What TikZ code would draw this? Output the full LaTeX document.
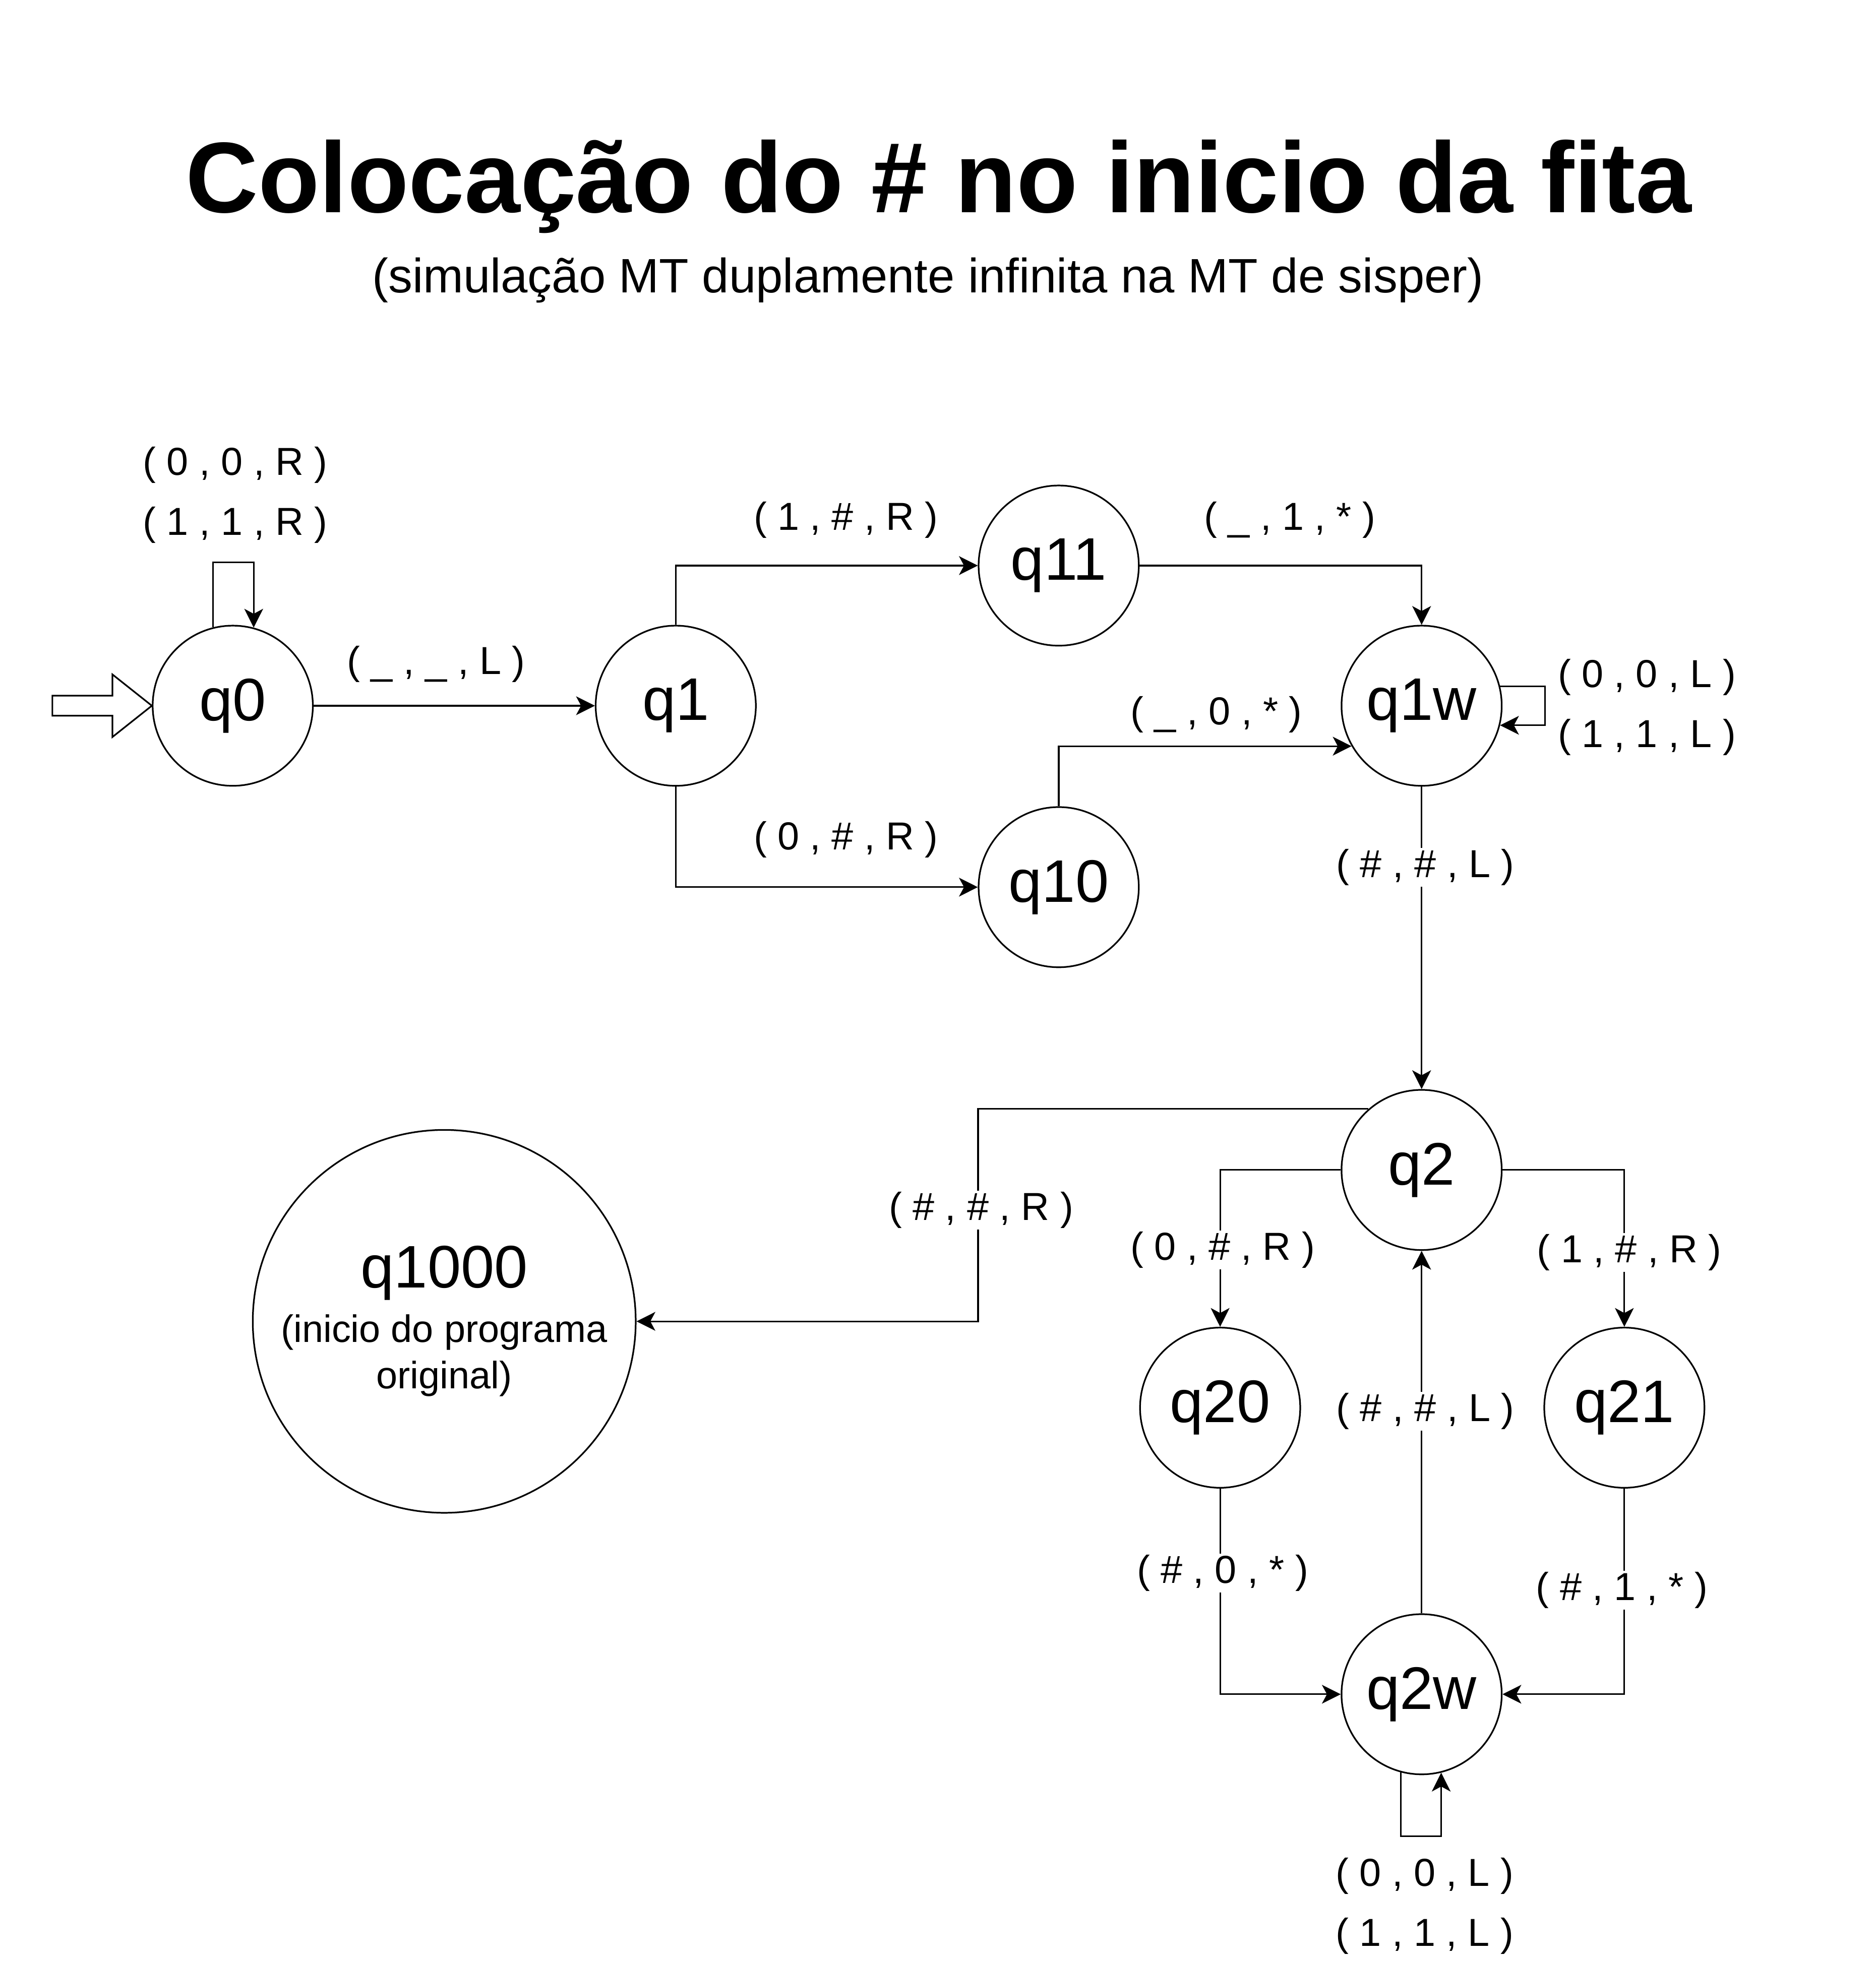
\documentclass[tikz,border=0pt]{standalone}
\usepackage{fontspec}
\setmainfont{Liberation Sans}
\usetikzlibrary{arrows.meta}

\tikzset{
  mtstate/.style={draw, circle, minimum size=128pt, inner sep=0pt, line width=1.3pt, font=\fontsize{48}{57.6}\selectfont},
  trans/.style={line width=1.3pt, -{Stealth[length=15pt,width=15pt,inset=4pt]}},
  lbl/.style={font=\fontsize{31.2}{48}\selectfont, align=center, inner sep=1pt},
  lblw/.style={lbl, fill=white},
}

\begin{document}
\begin{tikzpicture}[x=1pt, y=-1pt]
\useasboundingbox (0,0) rectangle (1499,1568);

\node[font=\fontsize{80.2}{96}\selectfont\bfseries, anchor=base] (title) at (750,170) {Colocação do \# no inicio da fita};
\node[font=\fontsize{38.6}{46}\selectfont, anchor=base] (subtitle) at (741.5,234) {(simulação MT duplamente infinita na MT de sisper)};

% states
\node[mtstate] (q0) at (186,564) {q0};
\node[mtstate] (q1) at (540,564) {q1};
\node[mtstate] (q11) at (846,452) {q11};
\node[mtstate] (q10) at (846,709) {q10};
\node[mtstate] (q1w) at (1136,564) {q1w};
\node[mtstate] (q2) at (1136,935) {q2};
\node[mtstate] (q20) at (975,1125) {q20};
\node[mtstate] (q21) at (1298,1125) {q21};
\node[mtstate] (q2w) at (1136,1354) {q2w};
\node[mtstate, minimum size=306pt, align=center] (q1000) at (355,1056) {q1000\\[-14.4pt]\fontsize{30.5}{37}\selectfont(inicio do programa\\[-20.2pt]\fontsize{30.5}{37}\selectfont original)};

% start arrow
\draw[line width=1.3pt, line join=miter] (q0.west) -- ++(-31.5,-25) -- ++(0,17) -- ++(-48,0) -- ++(0,16) -- ++(48,0) -- ++(0,17) -- cycle;

% transitions
\draw[trans] (q0) -- (q1);
\draw[trans] (q1) |- (q11);
\draw[trans] (q1) |- (q10);
\draw[trans] (q11) -| (q1w);
\draw[trans] (q10) |- (q1w.210);
\draw[trans] (q1w) -- (q2);
\draw[trans] (q2.131) -- ++(-312,0) |- (q1000);
\draw[trans] (q2) -| (q20);
\draw[trans] (q2) -| (q21);
\draw[trans] (q20) |- (q2w);
\draw[trans] (q21) |- (q2w);
\draw[trans] (q2w) -- (q2);

% loops
\draw[trans] (q0.104.5) -- ++(0,-52) -| (q0.75.5);
\draw[trans] (q1w.14.5) -- ++(36,0) |- (q1w.-14.5);
\draw[trans] (q2w.255.5) -- ++(0,51) -| (q2w.284.5);

% labels
\node[lbl] (l01) at (348.5,530.7) {( \_ , \_ , L )};
\node[lbl] (l02) at (676,415.6) {( 1 , \# , R )};
\node[lbl] (l03) at (1030.7,415.6) {( \_ , 1 , * )};
\node[lbl] (l04) at (972,571) {( \_ , 0 , * )};
\node[lbl] (l05) at (676,671) {( 0 , \# , R )};
\node[lblw] (l06) at (1139,693) {( \# , \# , L )};
\node[lblw] (l07) at (784,967) {( \# , \# , R )};
\node[lblw] (l08) at (977,999) {( 0 , \# , R )};
\node[lblw] (l09) at (1302,1001) {( 1 , \# , R )};
\node[lblw] (l10) at (1139,1128) {( \# , \# , L )};
\node[lblw] (l11) at (977,1257) {( \# , 0 , * )};
\node[lblw] (l12) at (1296,1271) {( \# , 1 , * )};
\node[lbl] (lq0) at (188,395.6) {( 0 , 0 , R )\\( 1 , 1 , R )};
\node[lbl] (lq1w) at (1316,565.2) {( 0 , 0 , L )\\( 1 , 1 , L )};
\node[lbl] (lq2w) at (1138.4,1523.4) {( 0 , 0 , L )\\( 1 , 1 , L )};
\end{tikzpicture}
\end{document}
